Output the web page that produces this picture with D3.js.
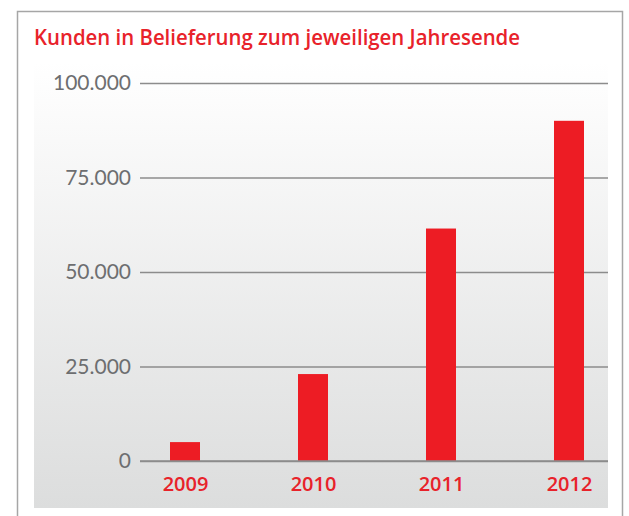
<!DOCTYPE html>
<html>
<head>
<meta charset="utf-8">
<script src="https://cdn.jsdelivr.net/npm/d3@7"></script>
<style>
  body { margin: 0; background: #fff; }
  svg { display: block; }
</style>
</head>
<body>
<div id="chart"></div>
<script>
var years = ["2009", "2010", "2011", "2012"];
var customers = [5000, 23000, 61500, 90000];
var tickValues = [0, 25000, 50000, 75000, 100000];

var width = 629,
    height = 516;

var plotLeft = 140,
    plotRight = 608,
    barWidth = 30;

var svg = d3.select("#chart")
    .append("svg")
    .attr("width", width)
    .attr("height", height);

var defs = svg.append("defs");
var grad = defs.append("linearGradient")
    .attr("id", "bg")
    .attr("x1", 0).attr("y1", 0)
    .attr("x2", 0).attr("y2", 1);
grad.append("stop").attr("offset", "0%").attr("stop-color", "#ffffff");
grad.append("stop").attr("offset", "100%").attr("stop-color", "#dcdddd");

// outer frame
svg.append("rect")
    .attr("x", 17.5).attr("y", 11.5)
    .attr("width", 605).attr("height", 520)
    .attr("fill", "#fff")
    .attr("stroke", "#a6a6a6")
    .attr("stroke-width", 1.5);

// grey panel
svg.append("rect")
    .attr("x", 34).attr("y", 62)
    .attr("width", 574).attr("height", 446)
    .attr("fill", "url(#bg)");

svg.append("text")
    .attr("x", 34)
    .attr("y", 45)
    .attr("textLength", 486)
    .attr("lengthAdjust", "spacingAndGlyphs")
    .style("font-family", "'Open Sans', Lato, sans-serif")
    .style("font-size", "22px")
    .style("font-weight", "600")
    .style("fill", "#e8222a")
    .text("Kunden in Belieferung zum jeweiligen Jahresende");

var y = d3.scaleLinear()
    .domain([0, 100000])
    .range([461, 83]);

// bar centres
var x = d3.scalePoint()
    .domain(years)
    .range([185, 569]);

var fmt = function (d) {
    return d3.format(",")(d).replace(/,/g, ".");
};

var yAxis = svg.append("g")
    .attr("transform", "translate(" + plotLeft + ",0)")
    .call(d3.axisLeft(y)
        .tickValues(tickValues)
        .tickSize(-(plotRight - plotLeft))
        .tickPadding(9)
        .tickFormat(fmt));

yAxis.select(".domain").remove();
yAxis.selectAll(".tick line")
    .attr("stroke", "#8c8c8c")
    .attr("stroke-width", 1.3);
yAxis.selectAll(".tick text")
    .style("font-family", "Lato, sans-serif")
    .style("font-size", "21px")
    .style("font-weight", "400")
    .style("fill", "#6d6e70");

svg.selectAll(".bar")
    .data(customers)
    .enter().append("rect")
    .attr("class", "bar")
    .attr("x", function (d, i) { return x(years[i]) - barWidth / 2; })
    .attr("width", barWidth)
    .attr("y", function (d) { return y(d); })
    .attr("height", function (d) { return y(0) - y(d); })
    .attr("fill", "#ed1c24");

// baseline on top of bars
svg.append("line")
    .attr("x1", plotLeft).attr("x2", plotRight)
    .attr("y1", y(0)).attr("y2", y(0))
    .attr("stroke", "#8c8c8c")
    .attr("stroke-width", 1.3);

var xAxis = svg.append("g")
    .attr("transform", "translate(0," + y(0) + ")")
    .call(d3.axisBottom(x).tickSize(0).tickPadding(16));

xAxis.select(".domain").remove();
xAxis.selectAll(".tick text")
    .style("font-family", "'Open Sans', sans-serif")
    .style("font-size", "20px")
    .style("font-weight", "600")
    .style("fill", "#e8222a");
</script>
</body>
</html>
